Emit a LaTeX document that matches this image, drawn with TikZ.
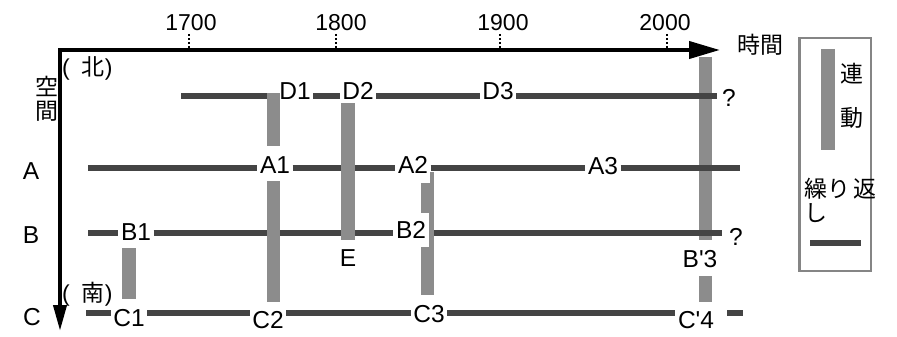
\documentclass[tikz,border=0pt]{standalone}
\usepackage{fontspec}
\setmainfont{Liberation Sans}
\newfontfamily\jp{Noto Sans CJK JP}
\usetikzlibrary{arrows.meta,calc}
\definecolor{repcol}{HTML}{444444}
\definecolor{linkcol}{HTML}{8C8C8C}
\definecolor{framecol}{HTML}{858585}
\pgfdeclarelayer{under}
\pgfdeclarelayer{lines}
\pgfdeclarelayer{over}
\pgfsetlayers{under,lines,over,main}
\begin{document}
\begin{tikzpicture}[x=1pt,y=1pt,
  every node/.style={font=\fontsize{24.5}{26}\selectfont},
  lbl/.style={inner xsep=2.5pt, inner ysep=0pt, text height=17.5pt, text depth=0pt},
  jplbl/.style={lbl, font=\fontsize{23}{24}\selectfont\jp},
  year/.style={lbl, font=\fontsize{23}{24}\selectfont},
  rep/.style={draw=repcol, line width=6pt},
  link/.style={draw=linkcol, line width=13.5pt},
  axisline/.style={line width=4pt, black},
  tickmark/.style={line width=1.2pt, dash pattern=on 2pt off 2pt}]
\useasboundingbox (0,0) rectangle (897,-337);

% ---- row reference heights and free line ends
\coordinate (rD) at (0,-96);
\coordinate (rA) at (0,-168);
\coordinate (rB) at (0,-233);
\coordinate (rC) at (0,-313);
\coordinate (Ds) at (181,-96);  \coordinate (De) at (717,-96);
\coordinate (As) at (88,-168);  \coordinate (Ae) at (740,-168);
\coordinate (Bs) at (88,-233);  \coordinate (Be) at (722,-233);
\coordinate (Cs) at (86,-313);  \coordinate (Ce0) at (727,-313); \coordinate (Ce) at (743,-313);

% ---- event labels
\node[lbl] (D1) at (295,-91) {D1};
\node[lbl] (D2) at (358,-91) {D2};
\node[lbl] (D3) at (498,-91) {D3};
\node[lbl] (qD) at (729,-98) {?};
\node[lbl] (A1) at (275,-165) {A1};
\node[lbl, fill=white, inner ysep=9pt] (A2) at (413,-165) {A2};
\node[lbl] (A3) at (603,-166) {A3};
\node[lbl] (B1) at (136,-232) {B1};
\node[lbl, fill=white, inner xsep=3pt, inner ysep=8pt] (B2) at (411,-230) {B2};
\node[lbl] (E) at (348,-258) {E};
\node[lbl] (B3) at (700,-259) {B\textquotesingle 3};
\node[lbl] (qB) at (736,-237) {?};
\node[lbl] (C1) at (129,-318) {C1};
\node[lbl] (C2) at (268,-320) {C2};
\node[lbl] (C3) at (429,-314) {C3};
\node[lbl] (C4) at (696,-320) {C\textquotesingle 4};

% ---- repetition lines
\begin{pgfonlayer}{lines}
\draw[rep] (Ds) -- (rD -| D1.west)  (rD -| D1.east) -- (rD -| D2.west)
           (rD -| D2.east) -- (rD -| D3.west)  (rD -| D3.east) -- (De);
\draw[rep] (As) -- (rA -| A1.west)  (rA -| A1.east) -- (rA -| A2.west)
           (rA -| A2.east) -- (rA -| A3.west)  (rA -| A3.east) -- (Ae);
\draw[rep] (Bs) -- (rB -| B1.west)  (rB -| B1.east) -- (rB -| B2.west)
           (rB -| B2.east) -- (Be);
\draw[rep] (Cs) -- (rC -| C1.west)  (rC -| C1.east) -- (rC -| C2.west)
           (rC -| C2.east) -- (rC -| C3.west)  (rC -| C3.east) -- (rC -| C4.west)
           (Ce0) -- (Ce);
\end{pgfonlayer}

% ---- linkage bars
\coordinate (k1t) at (273.5,-93);  \coordinate (k1b) at (273.5,-146);
\coordinate (k2t) at (273.5,-181); \coordinate (k2b) at (273.5,-302);
\coordinate (k3t) at (348,-103);   \coordinate (k3b) at (348,-240);
\coordinate (k4t) at (427.5,-172); \coordinate (k4b) at (427.5,-295);
\coordinate (k5t) at (129,-248);   \coordinate (k5b) at (129,-299);
\coordinate (k6t) at (705.5,-57);  \coordinate (k6b) at (705.5,-240);
\coordinate (k7t) at (705.5,-276); \coordinate (k7b) at (705.5,-302);
\begin{pgfonlayer}{under}
\draw[link] (k6t) -- (k6b);
\draw[link] (k7t) -- (k7b);
\end{pgfonlayer}
\begin{pgfonlayer}{over}
\draw[link] (k1t) -- (k1b);
\draw[link] (k2t) -- (k2b);
\draw[link] (k3t) -- (k3b);
\draw[link] (k4t) -- (k4b);
\draw[link] (k5t) -- (k5b);
\end{pgfonlayer}

% ---- axes
\node[inner sep=0, align=center, font=\fontsize{23}{24}\selectfont\jp] (space) at (47,-99) {空\\間};
\coordinate (O) at (60,-50);
\coordinate (Tend) at (720,-50);
\coordinate (Send) at (60,-331);
\draw[axisline, line cap=rect, -{Triangle[length=31pt,width=17pt]}] (O) -- (Tend);
\draw[axisline, line cap=rect, -{Triangle[length=26pt,width=13pt]}] (O) -- (Send);
\node[jplbl] (time) at (760,-45) {時間};
\node[lbl, anchor=west, inner xsep=0pt, font=\fontsize{23}{24}\selectfont] (north) at (62,-67) {(\hspace{12pt}{\jp 北})};
\node[lbl, anchor=west, inner xsep=0pt, font=\fontsize{23}{24}\selectfont] (south) at (62,-293) {(\hspace{12pt}{\jp 南})};
\node[lbl] (rowA) at (31,-171) {A};
\node[lbl] (rowB) at (31,-235) {B};
\node[lbl] (rowC) at (32,-317) {C};

% ---- years and tick marks
\node[year] (y1700) at (191,-22) {1700};
\node[year] (y1800) at (341,-22) {1800};
\node[year] (y1900) at (503,-22) {1900};
\node[year] (y2000) at (665,-22) {2000};
\coordinate (t1700) at (189,-34);
\coordinate (t1800) at (336,-34);
\coordinate (t1900) at (500,-34);
\coordinate (t2000) at (667,-34);
\foreach \t in {t1700,t1800,t1900,t2000}
  \draw[tickmark] (\t) -- ++(0,-15);

% ---- legend
\node[draw=framecol, line width=2.5pt, minimum width=71.5pt, minimum height=232.5pt, inner sep=0] (legend) at (835,-154.5) {};
\coordinate (lgt) at (828,-49);  \coordinate (lgb) at (828,-150);
\draw[link, line width=14pt] (lgt) -- (lgb);
\node[jplbl] (lg1) at (852,-74) {連};
\node[jplbl] (lg2) at (852,-118) {動};
\node[inner sep=0, anchor=north west, align=left, font=\fontsize{23}{24}\selectfont\jp] (lg3) at (804,-178) {繰り\hspace{3pt}返\\し};
\coordinate (lrs) at (810,-243); \coordinate (lre) at (861,-243);
\draw[rep] (lrs) -- (lre);
\end{tikzpicture}
\end{document}
